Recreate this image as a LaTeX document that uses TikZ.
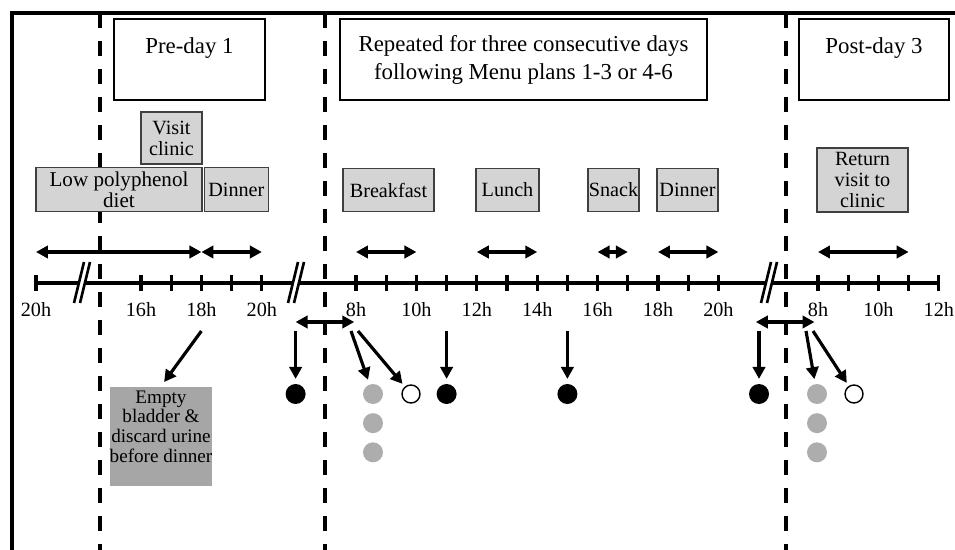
\documentclass[tikz,border=0pt]{standalone}
\usepackage{fontspec}
\setmainfont{Liberation Serif}
\usepackage{tikz}
\usetikzlibrary{arrows.meta,positioning,calc}
\usepackage{xcolor}
\colorlet{boxfill}{black!17}
\colorlet{boxline}{black!75}
\colorlet{urine}{black!35}
\colorlet{spot}{black!32}

\begin{document}
\begin{tikzpicture}[x=0.02cm, y=-0.02cm, >={Triangle[length=6.8pt,width=7pt]}, line width=1.8pt]
\tikzstyle{phase}=[draw=black,line width=0.8pt,minimum height=1.62cm,inner sep=0pt,align=center,font=\fontsize{13}{16}\selectfont]
\tikzstyle{meal}=[draw=boxline,fill=boxfill,line width=0.8pt,minimum height=0.87cm,inner sep=0pt,align=center,font=\fontsize{11.5}{12}\selectfont]
\tikzstyle{hour}=[anchor=north,inner sep=0pt,font=\fontsize{11.5}{12}\selectfont]
\tikzstyle{dot}=[circle,minimum size=0.4cm,inner sep=0pt]
\tikzstyle{daysep}=[line width=2.3pt,dash pattern=on 8.5pt off 7.4pt]
\useasboundingbox (0,0) rectangle (955,550);

% frame and day separators
\draw (12,550) -- (12,13) -- (955,13);
\foreach \sx in {100,325,786}
  \draw[daysep] (\sx,13) -- (\sx,550);

% headers
\node[phase, minimum width=3.02cm] (pre)  at (189.5,59.5) {Pre-day 1\\ \mbox{}};
\node[phase, minimum width=7.34cm] (rep)  at (523.5,59.5) {Repeated for three consecutive days\\following Menu plans 1-3 or 4-6};
\node[phase, minimum width=3.0cm]  (post) at (874,59.5)   {Post-day 3\\ \mbox{}};

% meals and visits
\node[meal, minimum width=3.32cm, font=\fontsize{12}{12}\selectfont] (diet) at (119,189.5) {Low polyphenol\\diet};
\node[meal, minimum width=1.28cm] (dinA) [right=0.02cm of diet] {Dinner};
\node[meal, minimum width=1.22cm, minimum height=1.04cm] (visit) at (171.5,138) {Visit\\clinic};
\node[meal, minimum width=1.82cm] (bfast) at (388.5,190) {Breakfast};
\node[meal, minimum width=1.26cm] (lunch) at (507.5,190) {Lunch};
\node[meal, minimum width=1.02cm] (snack) at (613.5,190) {Snack};
\node[meal, minimum width=1.22cm] (dinB)  at (687.5,190) {Dinner};
\node[meal, minimum width=1.82cm, minimum height=1.28cm] (back) at (862.5,180) {Return\\visit to\\clinic};
\node[meal, draw=none, fill=urine, minimum width=2.04cm, minimum height=1.98cm,
      font=\fontsize{10.9}{11.3}\selectfont] (empty) at (161,436.5) {Empty\\bladder \&\\discard urine\\before dinner\\ \mbox{}};

% time axis
\coordinate (l20) at (36,283);
\foreach \h in {16,...,20} \coordinate (a\h) at ({141+30.2*(\h-16)},283);
\foreach \h in {6,...,20}  \coordinate (b\h) at ({356+30.2*(\h-8)},283);
\foreach \h in {6,...,12}  \coordinate (c\h) at ({818+30.2*(\h-8)},283);
\coordinate (spanrow) at (0,252);
\coordinate (winrow)  at (0,322);
\coordinate (droprow) at (0,331);
\coordinate (dotrow)  at (0,394);

\draw (l20) -- (c12);
\foreach \t in {l20,a16,a17,a18,a19,a20,b8,b9,b10,b11,b12,b13,b14,b15,b16,b17,b18,b19,b20,c8,c9,c10,c11,c12}
  \draw (\t) ++(0,-8) -- ++(0,16);
\foreach \t/\lab in {l20/20h,a16/16h,a18/18h,a20/20h,b8/8h,b10/10h,b12/12h,b14/14h,b16/16h,b18/18h,b20/20h,c8/8h,c10/10h,c12/12h}
  \path (\t) ++(0,18) node[hour] (t-\t) {\lab};
\foreach \bx in {82,296,769} {
  \fill[white] (\bx-3,278) rectangle (\bx+3,288);
  \draw[line width=1.5pt] (\bx-8,303) -- (\bx+2,262) (\bx-2,303) -- (\bx+8,262);
}

% spans
\path[<->]
(l20 |- spanrow) edge (a18 |- spanrow)
(a18 |- spanrow) edge (a20 |- spanrow)
(b8 |- spanrow)  edge (b10 |- spanrow)
(b12 |- spanrow) edge (b14 |- spanrow)
(b16 |- spanrow) edge (b17 |- spanrow)
(b18 |- spanrow) edge (b20 |- spanrow)
(c8 |- spanrow)  edge (c11 |- spanrow)
(b6 |- winrow)   edge[shorten >=1pt] (b8 |- winrow)
(c6 |- winrow)   edge[shorten <=-1pt, shorten >=2pt] (c8 |- winrow);

% samples
\node[dot, fill=black] (s1) at (b6 |- dotrow) {};
\node[dot, fill=spot]  (g1) at (373,394) {};
\node[dot, fill=spot]  (g2) [below=0.12cm of g1] {};
\node[dot, fill=spot]  (g3) [below=0.12cm of g2] {};
\node[dot, draw, line width=0.8pt, minimum size=0.36cm] (o1) at (411,394) {};
\node[dot, fill=black] (s2) at (b11 |- dotrow) {};
\node[dot, fill=black] (s3) at (b15 |- dotrow) {};
\node[dot, fill=black] (s4) at (759,394) {};
\node[dot, fill=spot]  (g4) at (817,394) {};
\node[dot, fill=spot]  (g5) [below=0.12cm of g4] {};
\node[dot, fill=spot]  (g6) [below=0.12cm of g5] {};
\node[dot, draw, line width=0.8pt, minimum size=0.36cm] (o2) at (854,394) {};

\coordinate (fkA) at (351,331);
\coordinate (fkB) at (358,331);
\coordinate (fkC) at (806,331);
\coordinate (fkD) at (813,331);

\path[->, shorten >=2pt]
(a18 |- droprow) edge[shorten >=3pt] (empty.north)
(b6 |- droprow)  edge (s1)
(fkA) edge (g1)
(fkB) edge (o1)
(b11 |- droprow) edge (s2)
(b15 |- droprow) edge (s3)
(s4 |- droprow)  edge (s4)
(fkC) edge (g4)
(fkD) edge (o2);
\end{tikzpicture}
\end{document}
